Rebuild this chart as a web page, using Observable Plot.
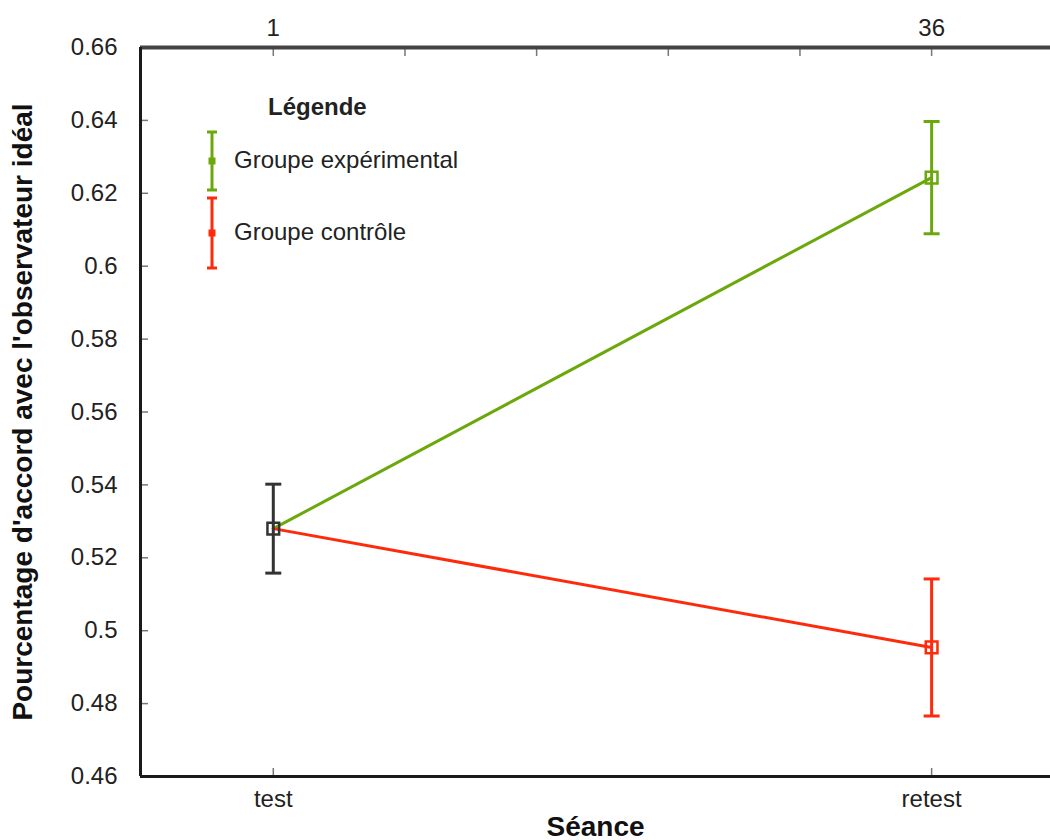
<!DOCTYPE html>
<html>
<head>
<meta charset="utf-8">
<script src="https://cdn.jsdelivr.net/npm/d3@7"></script>
<script src="https://cdn.jsdelivr.net/npm/@observablehq/plot@0.6"></script>
<style>
  html, body { margin: 0; padding: 0; background: #fff; }
  #wrap { position: relative; width: 1050px; height: 840px; overflow: hidden; font-family: "Liberation Sans", Arial, sans-serif; }
  #wrap svg { font-family: "Liberation Sans", Arial, sans-serif; }
  g[aria-label="x-axis label"] text, g[aria-label="y-axis label"] text { font-weight: bold; font-size: 28px; fill: #111; }
  #legend { position: absolute; left: 200px; top: 90px; color: #222; font-size: 24px; }
  #legend .title { position: absolute; left: 68px; top: 3px; font-weight: bold; white-space: nowrap; }
  #legend .item { position: absolute; left: 0; white-space: nowrap; }
  #legend .item svg { position: absolute; left: 0; top: 0; }
  #legend .item span { position: absolute; left: 34px; white-space: nowrap; }
</style>
</head>
<body>
<div id="wrap"></div>
<script>
// ---- data ----
const sessions = [1, 36];
const sessionLabels = ["test", "retest"];
const topTicks = [1, 8, 15, 22, 29, 36];
const topTickLabels = ["1", "", "", "", "", "36"];
const yTicks = [0.46, 0.48, 0.5, 0.52, 0.54, 0.56, 0.58, 0.6, 0.62, 0.64, 0.66];
const yTickLabels = ["0.46", "0.48", "0.5", "0.52", "0.54", "0.56", "0.58", "0.6", "0.62", "0.64", "0.66"];
const groups = ["Groupe expérimental", "Groupe contrôle"];
const groupColors = ["#6aa80c", "#ff2a0c"];
const testColor = "#333333";
const expMeans = [0.528, 0.6243];
const expErrors = [0.0122, 0.0154];
const ctrlMeans = [0.528, 0.4954];
const ctrlErrors = [0.0122, 0.0188];
const xDomain = [-6.06, 42.32];
const yDomain = [0.46, 0.66];

// ---- table ----
const rows = [];
[[expMeans, expErrors], [ctrlMeans, ctrlErrors]].forEach(([m, e], gi) => {
  sessions.forEach((s, si) => {
    rows.push({group: groups[gi], session: s, mean: m[si], err: e[si],
      color: si === 0 ? testColor : groupColors[gi]});
  });
});
const pointRows = rows.filter((r) => !(r.session === sessions[0] && r.group !== groups[0]));

const capSymbol = {
  draw(context, size) {
    const w = Math.sqrt(size / Math.PI);
    context.moveTo(-w, 0);
    context.lineTo(w, 0);
  }
};

const chart = Plot.plot({
  width: 1050,
  height: 840,
  marginLeft: 140,
  marginRight: 0,
  marginTop: 47,
  marginBottom: 64,
  style: {fontSize: "24px", fontFamily: "Liberation Sans, Arial, sans-serif", color: "#222", background: "#fff"},
  x: {domain: xDomain},
  y: {domain: yDomain},
  marks: [
    Plot.axisY(yTicks, {anchor: "left", tickSize: -8, tickPadding: 31, tickFormat: (d, i) => yTickLabels[i],
      stroke: "#777", strokeWidth: 1.5, label: "Pourcentage d'accord avec l'observateur idéal",
      labelAnchor: "center", labelOffset: 128, labelArrow: "none"}),
    Plot.axisX(topTicks, {anchor: "top", tickSize: -8, tickPadding: 20, tickFormat: (d, i) => topTickLabels[i],
      stroke: "#777", strokeWidth: 1.5, label: null}),
    Plot.axisX(sessions, {anchor: "bottom", tickSize: -8, tickPadding: 21, tickFormat: (d, i) => sessionLabels[i],
      stroke: "#777", strokeWidth: 1.5, label: "Séance", labelAnchor: "center", labelOffset: 59, labelArrow: "none"}),
    Plot.ruleY([yDomain[1]], {stroke: "#444", strokeWidth: 4}),
    Plot.ruleY([yDomain[0]], {stroke: "#1a1a1a", strokeWidth: 3}),
    Plot.ruleX([xDomain[0]], {stroke: "#1a1a1a", strokeWidth: 3}),
    Plot.line(rows, {x: "session", y: "mean", z: "group", stroke: (d) => groupColors[groups.indexOf(d.group)], strokeWidth: 3}),
    Plot.ruleX(pointRows, {x: "session", y1: (d) => d.mean - d.err, y2: (d) => d.mean + d.err, stroke: "color", strokeWidth: 3}),
    Plot.dot(pointRows, {x: "session", y: (d) => d.mean - d.err, symbol: capSymbol, r: 8, stroke: "color", strokeWidth: 3}),
    Plot.dot(pointRows, {x: "session", y: (d) => d.mean + d.err, symbol: capSymbol, r: 8, stroke: "color", strokeWidth: 3}),
    Plot.dot(pointRows, {x: "session", y: "mean", symbol: "square", r: 6.6, stroke: "color", strokeWidth: 2.5, fill: "none"})
  ]
});
const wrap = document.getElementById("wrap");
wrap.appendChild(chart);

// ---- legend ----
const legend = document.createElement("div");
legend.id = "legend";
legend.innerHTML = `<div class="title">Légende</div>`;
const itemTops = [40, 106];
const itemHeights = [58, 70];
groups.forEach((g, i) => {
  const c = groupColors[i];
  const h = itemHeights[i];
  const item = document.createElement("div");
  item.className = "item";
  item.style.top = itemTops[i] + "px";
  item.innerHTML = `<svg width="24" height="${h + 4}" viewBox="0 0 24 ${h + 4}">
      <line x1="12" x2="12" y1="2" y2="${h + 2}" stroke="${c}" stroke-width="3"/>
      <line x1="7" x2="17" y1="2" y2="2" stroke="${c}" stroke-width="3"/>
      <line x1="7" x2="17" y1="${h + 2}" y2="${h + 2}" stroke="${c}" stroke-width="3"/>
      <rect x="8.5" y="${h / 2 - 1.5}" width="7" height="7" fill="${c}"/>
    </svg><span style="top:${h / 2 - 13}px">${g}</span>`;
  legend.appendChild(item);
});
wrap.appendChild(legend);
</script>
</body>
</html>
